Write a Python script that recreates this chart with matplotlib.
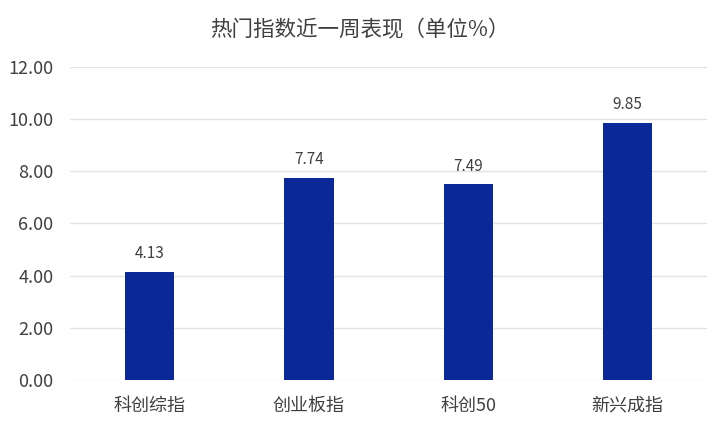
import matplotlib
matplotlib.use("Agg")
import matplotlib.pyplot as plt

plt.rcParams['font.family'] = ['Noto Sans CJK SC', 'DejaVu Sans']

categories = ["科创综指", "创业板指", "科创50", "新兴成指"]
values = [4.13, 7.74, 7.49, 9.85]
yticks = [0, 2, 4, 6, 8, 10, 12]

bar_color = "#0A2898"
text_color = "#404040"

fig = plt.figure(figsize=(7.2, 4.32), dpi=100)
ax = fig.add_axes([0.0972, 0.1204, 0.885, 0.725])

x = range(len(categories))
bars = ax.bar(x, values, width=0.31, color=bar_color, zorder=3)

for b, v in zip(bars, values):
    ax.annotate("%.2f" % v, (b.get_x() + b.get_width() / 2, v),
                xytext=(0, 7), textcoords="offset points",
                ha="center", va="bottom", fontsize=11, color=text_color)

ax.set_xlim(-0.5, 3.5)
ax.set_ylim(0, 12)
ax.set_yticks(yticks)
ax.set_yticklabels(["%.2f" % t for t in yticks])
ax.set_xticks(list(x))
ax.set_xticklabels(categories)
ax.tick_params(axis="y", length=0, pad=12, labelsize=13, labelcolor=text_color)
ax.tick_params(axis="x", length=0, pad=12, labelsize=13, labelcolor=text_color)
ax.grid(axis="y", color="#E3E3E3", linewidth=1, zorder=0)
for s in ax.spines.values():
    s.set_visible(False)

fig.text(0.5, 0.93, "热门指数近一周表现（单位%）", ha="center", va="center",
         fontsize=15.5, color=text_color)

fig.savefig("out.png", dpi=100)
